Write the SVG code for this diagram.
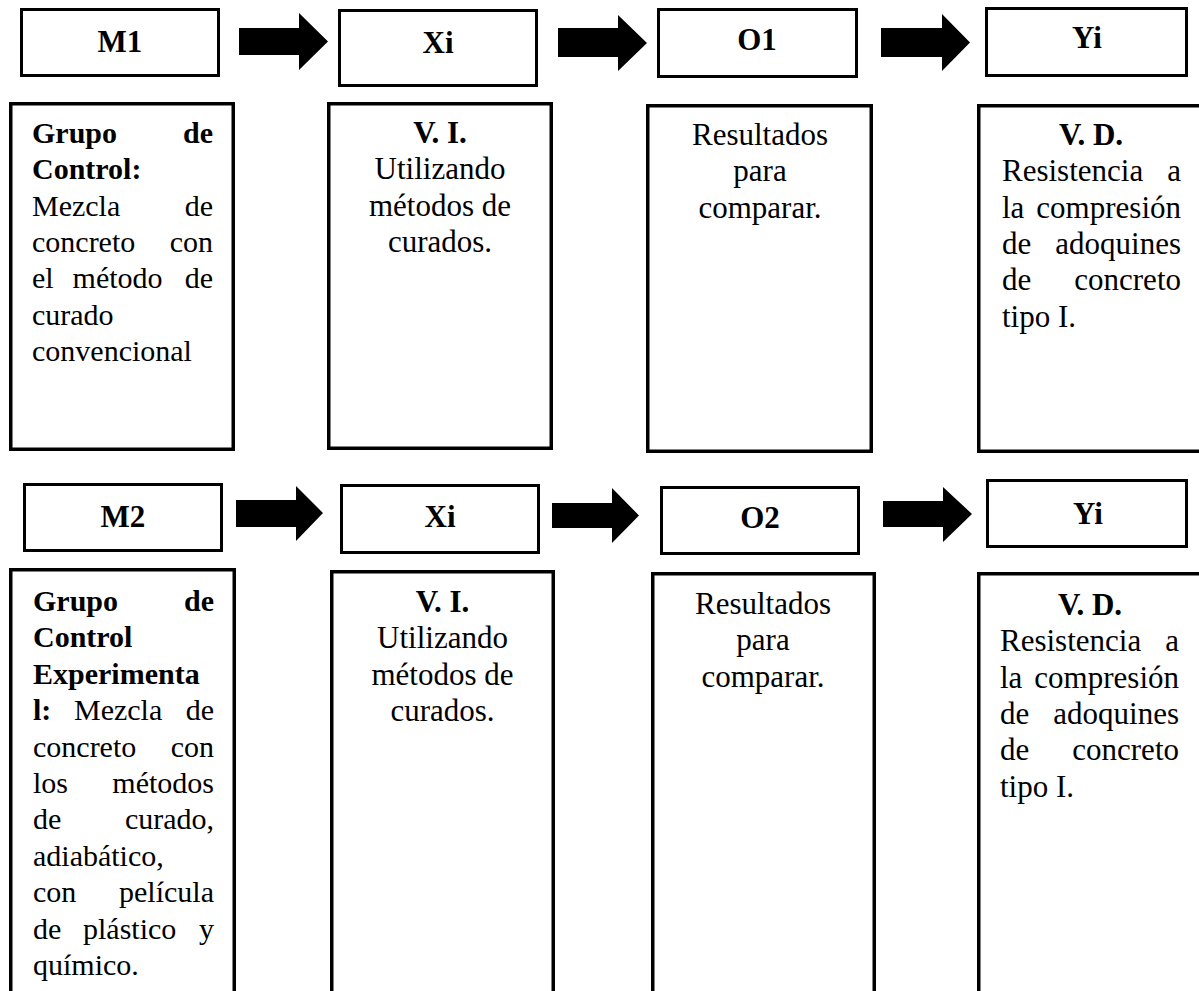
<svg xmlns="http://www.w3.org/2000/svg" width="1199" height="991" viewBox="0 0 1199 991">
<style>
.box{fill:#fff;stroke:#000;stroke-width:3.5}
.hbox{fill:#fff;stroke:#000;stroke-width:3}
.arr{fill:#000}
text{font-family:"Liberation Serif","Times New Roman",serif;fill:#000}
.h{font-size:31px;font-weight:bold;text-anchor:middle}
.t{font-size:30px}
.u{font-size:31px}
.b{font-weight:bold}
.e{text-anchor:end}
.m{text-anchor:middle}
</style>
<rect width="1199" height="991" fill="#fff"/>
<g id="connectors">
<polygon class="arr" points="239,28 299,28 299,13 328,41.5 299,70 299,55 239,55"/>
<polygon class="arr" points="558,28 618,28 618,15 647,43 618,71 618,57 558,57"/>
<polygon class="arr" points="881,28 942,28 942,14 970,42.5 942,71 942,57 881,57"/>
<polygon class="arr" points="236,500 296,500 296,486 323,513 296,541 296,527 236,527"/>
<polygon class="arr" points="552,503 612,503 612,488 639,515.5 612,543 612,528 552,528"/>
<polygon class="arr" points="883,501 943,501 943,487 972,514 943,542 943,527 883,527"/>
</g>
<g id="m1"><rect class="hbox" x="21.5" y="9.5" width="197" height="66"/><text class="h" x="120" y="52">M1</text></g>
<g id="xi1"><rect class="hbox" x="339.5" y="10.5" width="197" height="75"/><text class="h" x="438" y="53">Xi</text></g>
<g id="o1"><rect class="hbox" x="658.5" y="9.5" width="198" height="67"/><text class="h" x="757" y="50">O1</text></g>
<g id="yi1"><rect class="hbox" x="986.5" y="8.5" width="200" height="67"/><text class="h" x="1087" y="48">Yi</text></g>

<g id="g1">
<rect class="box" x="10.75" y="103.75" width="222.5" height="345.5"/>
<text class="t b" x="32" y="143">Grupo</text><text class="t b e" x="213" y="143">de</text>
<text class="t b" x="32" y="179">Control:</text>
<text class="t" x="32" y="216">Mezcla</text><text class="t e" x="213" y="216">de</text>
<text class="t" x="32" y="252">concreto</text><text class="t e" x="213" y="252">con</text>
<text class="t" x="32" y="288">el</text><text class="t" x="72.6" y="288">método</text><text class="t e" x="213" y="288">de</text>
<text class="t" x="32" y="325">curado</text>
<text class="t" x="32" y="361">convencional</text>
</g>
<g id="vi1">
<rect class="box" x="328.75" y="103.75" width="222.5" height="344.5"/>
<text class="u b m" x="440" y="143">V. I.</text>
<text class="u m" x="440" y="179">Utilizando</text>
<text class="u m" x="440" y="216">métodos de</text>
<text class="u m" x="440" y="252">curados.</text>
</g>
<g id="r1">
<rect class="box" x="647.75" y="105.75" width="223.5" height="345.5"/>
<text class="u m" x="760" y="145">Resultados</text>
<text class="u m" x="760" y="181">para</text>
<text class="u m" x="760" y="218">comparar.</text>
</g>
<g id="vd1">
<rect class="box" x="978.75" y="105.75" width="230" height="345.5"/>
<text class="u b m" x="1091" y="145">V. D.</text>
<text class="u" x="1002" y="181">Resistencia</text><text class="u e" x="1181" y="181">a</text>
<text class="u" x="1002" y="218">la</text><text class="u e" x="1181" y="218">compresión</text>
<text class="u" x="1002" y="254">de</text><text class="u e" x="1181" y="254">adoquines</text>
<text class="u" x="1002" y="290">de</text><text class="u e" x="1181" y="290">concreto</text>
<text class="u" x="1002" y="327">tipo I.</text>
</g>

<g id="m2"><rect class="hbox" x="24.5" y="484.5" width="197" height="66"/><text class="h" x="123" y="527">M2</text></g>
<g id="xi2"><rect class="hbox" x="341.5" y="485.5" width="197" height="67"/><text class="h" x="440" y="527">Xi</text></g>
<g id="o2"><rect class="hbox" x="661.5" y="487.5" width="197" height="66"/><text class="h" x="760" y="528">O2</text></g>
<g id="yi2"><rect class="hbox" x="987.5" y="480.5" width="199" height="66"/><text class="h" x="1088" y="524">Yi</text></g>

<g id="g2">
<rect class="box" x="10.75" y="569.75" width="223.5" height="440"/>
<text class="t b" x="33" y="611">Grupo</text><text class="t b e" x="214" y="611">de</text>
<text class="t b" x="33" y="647">Control</text>
<text class="t b" x="33" y="684">Experimenta</text>
<text class="t b" x="33" y="720">l:</text><text class="t" x="74" y="720">Mezcla</text><text class="t e" x="214" y="720">de</text>
<text class="t" x="33" y="757">concreto</text><text class="t e" x="214" y="757">con</text>
<text class="t" x="33" y="793">los</text><text class="t e" x="214" y="793">métodos</text>
<text class="t" x="33" y="829">de</text><text class="t e" x="214" y="829">curado,</text>
<text class="t" x="33" y="866">adiabático,</text>
<text class="t" x="33" y="902">con</text><text class="t e" x="214" y="902">película</text>
<text class="t" x="33" y="939">de</text><text class="t" x="83" y="939">plástico</text><text class="t e" x="214" y="939">y</text>
<text class="t" x="33" y="975">químico.</text>
</g>
<g id="vi2">
<rect class="box" x="331.75" y="571.75" width="221.5" height="440"/>
<text class="u b m" x="442.5" y="612">V. I.</text>
<text class="u m" x="442.5" y="648">Utilizando</text>
<text class="u m" x="442.5" y="685">métodos de</text>
<text class="u m" x="442.5" y="721">curados.</text>
</g>
<g id="r2">
<rect class="box" x="652.75" y="573.75" width="221.5" height="440"/>
<text class="u m" x="763" y="614">Resultados</text>
<text class="u m" x="763" y="650">para</text>
<text class="u m" x="763" y="687">comparar.</text>
</g>
<g id="vd2">
<rect class="box" x="978.75" y="573.75" width="230" height="440"/>
<text class="u b m" x="1090" y="615">V. D.</text>
<text class="u" x="1000" y="651">Resistencia</text><text class="u e" x="1179" y="651">a</text>
<text class="u" x="1000" y="688">la</text><text class="u e" x="1179" y="688">compresión</text>
<text class="u" x="1000" y="724">de</text><text class="u e" x="1179" y="724">adoquines</text>
<text class="u" x="1000" y="760">de</text><text class="u e" x="1179" y="760">concreto</text>
<text class="u" x="1000" y="797">tipo I.</text>
</g>
</svg>
